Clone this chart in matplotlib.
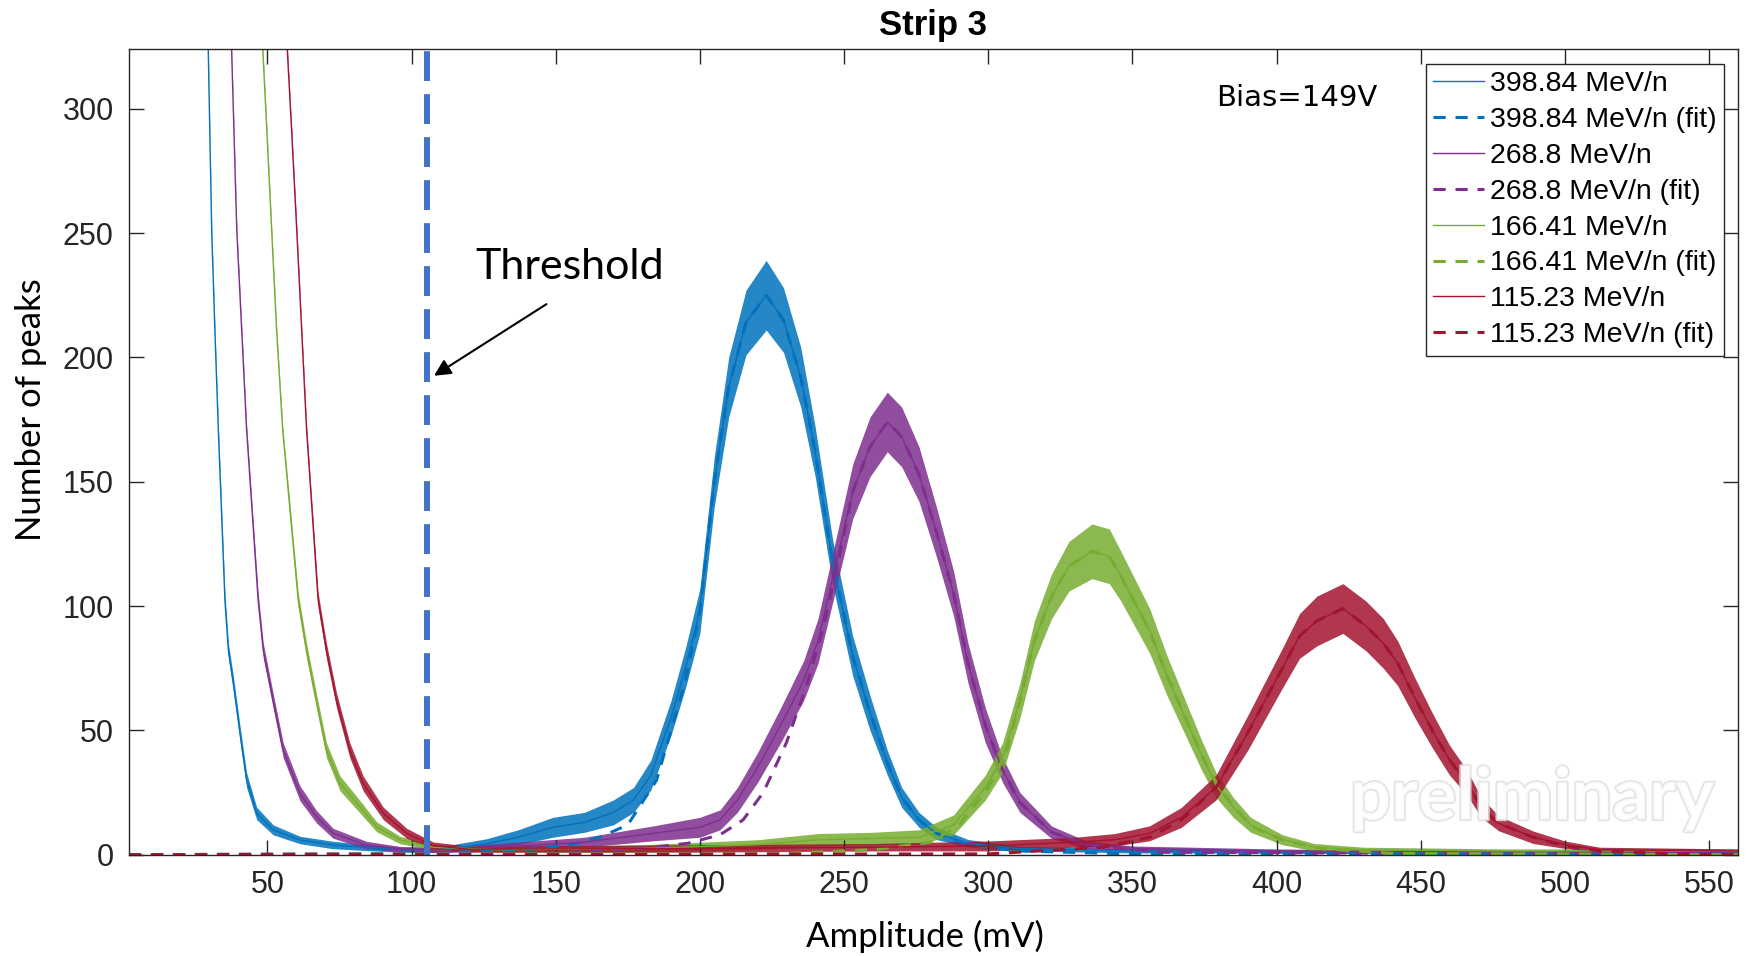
import numpy as np
import matplotlib.pyplot as plt
import matplotlib.patheffects as pe

x_398 = [29.5, 30.7, 31.8, 33, 35.3, 36.5, 38.2, 40.5, 42.8, 46.3, 52, 61.3, 72.7, 85, 96, 110, 126, 137, 149, 160,
         170, 177, 183, 190, 195, 200, 205, 210, 216, 223, 229, 235, 240, 246, 253, 259, 265, 270, 276, 282, 293,
         310, 350, 400, 450, 500, 560]
y_398 = [324, 251, 211, 171, 102, 82, 69, 49, 30, 16.6, 10, 5.9, 3.9, 2.8, 2, 2, 4.4, 7, 11, 13,
         17, 22, 32, 55, 75, 98, 150, 188, 214, 225, 215, 192, 162, 118, 80, 57, 37, 23, 14, 8.6, 4.6,
         2.5, 1.5, 1.2, 1, 1, 1]
n_398 = [2, 2, 2, 2, 3, 3, 3, 3, 3, 2.5, 2, 1.5, 1.5, 1.2, 1, 1.2, 2, 3, 4, 4,
         5, 5, 6, 7, 8, 9, 10, 12, 13, 14, 13, 12, 10, 9, 8, 7, 5, 4, 3, 2.5, 1.5,
         1, 0.8, 0.6, 0.6, 0.6, 0.6]

x_268 = [37.6, 39.4, 41.1, 42.8, 46.8, 48.6, 52, 55.5, 61.3, 67, 72.8, 84.3, 96, 110, 130, 160, 184, 200, 207, 213,
         220, 228, 236, 241, 247, 253, 259, 265, 270, 276, 282, 288, 293, 299, 305, 311, 322, 334, 350, 400, 450,
         500, 560]
y_268 = [324, 251, 211, 171, 102.5, 82, 62, 42, 24.7, 15.3, 8.6, 3.9, 2.3, 1.8, 3, 5, 8.6, 11, 14, 22,
         35, 52, 70, 86, 116, 146, 164, 174, 168, 153, 130, 105, 77, 52, 34, 21, 9, 4, 2.5, 1.5, 1.2,
         1, 1]
n_268 = [2, 2, 2, 2, 3, 3, 3, 3, 3, 2.5, 2, 1.5, 1, 1, 1.5, 2, 3, 4, 4, 5,
         6, 7, 8, 9, 10, 11, 12, 12, 12, 11, 10, 9, 8, 7, 5, 4, 2.5, 1.5, 1, 0.8, 0.6,
         0.6, 0.6]

x_166 = [48.4, 49.8, 51.5, 53.2, 55.3, 60.7, 63.6, 67, 70.5, 75.2, 82.1, 87.9, 96, 107.5, 130, 180, 220, 241, 260, 276,
         288, 299, 305, 311, 316, 322, 328, 336, 342, 346, 356, 362, 368, 374, 379, 385, 391, 402, 413, 430, 480,
         560]
y_166 = [324, 291.6, 251, 211, 171, 102.5, 82, 62, 42, 28.7, 19.3, 11.2, 5.9, 3, 2, 2.5, 4, 6, 6.5, 7,
         12, 27, 39, 62, 86, 104, 116, 122, 120, 112, 90, 72, 56, 40, 28, 19, 12, 6, 3, 2, 1.5,
         1.5]
n_166 = [2, 2, 2, 2, 2, 3, 3, 3, 3, 3, 2.5, 2, 1.5, 1, 1, 1.5, 2, 2.5, 2.5, 3,
         4, 5, 6, 7, 8, 9, 10, 11, 11, 10, 9, 8, 7, 6, 5, 4, 3, 2, 1.5, 1, 0.8,
         0.8]

x_115 = [56.9, 58.4, 60.2, 61.9, 63.6, 67.6, 70.5, 74, 78.6, 83.2, 90.2, 98.3, 107.5, 120, 200, 260, 300, 330, 344, 356,
         367, 379, 390, 402, 408, 414, 423, 431, 437, 442, 448, 454, 460, 466, 471, 477, 489, 500, 512, 560]
y_115 = [324, 291.6, 251, 211, 171, 102.5, 82, 62, 42, 28.7, 16.6, 8.6, 3.6, 2.2, 2.5, 3, 3.5, 5, 6, 8.6,
         15, 27, 49, 75, 88, 94, 99, 92, 85, 77, 63, 50, 38, 29, 19, 12.6, 7, 4, 2, 1.5]
n_115 = [2, 2, 2, 2, 2, 3, 3, 3, 3, 3, 2.5, 2, 1.5, 1.2, 1.5, 1.5, 2, 2, 2.5, 3,
         4, 5, 7, 8, 9, 10, 10, 10, 10, 9, 8, 7, 6, 5, 4, 3, 2.5, 1.5, 1, 0.8]

# fits
fx_398 = [2, 100, 140, 155, 165, 175, 185, 195, 200, 205, 210, 216, 223, 229, 235, 240, 246, 253, 259, 265, 270,
          276, 282, 293, 310, 350, 560]
fy_398 = [0, 0.3, 2, 4, 6.8, 12, 30, 70, 98, 150, 188, 214, 225, 215, 192, 162, 118, 80, 57, 37, 23,
          14, 8.6, 4, 1.5, 0.3, 0]
fx_268 = [2, 150, 180, 196, 207, 215, 222, 230, 237, 243, 248, 253, 259, 265, 270, 276, 282, 288, 293, 299, 305,
          311, 322, 334, 360, 560]
fy_268 = [0, 0.5, 2.5, 4.6, 8, 14, 25, 45, 68, 92, 118, 146, 164, 174, 168, 153, 130, 105, 77, 52, 34,
          21, 9, 4, 1, 0]
fx_166 = [2, 230, 260, 280, 290, 300, 306, 311, 316, 322, 328, 336, 342, 346, 356, 362, 368, 374, 380, 386, 392,
          403, 415, 440, 560]
fy_166 = [0, 0.5, 2, 5, 12, 27, 40, 62, 86, 104, 116, 122, 120, 112, 90, 72, 56, 40, 27, 18, 11,
          5.5, 2.5, 0.5, 0]
fx_115 = [2, 300, 340, 356, 367, 379, 390, 402, 408, 414, 423, 431, 437, 442, 448, 454, 460, 466, 471, 477, 489,
          500, 512, 540, 560]
fy_115 = [0, 0.3, 3, 7, 14, 27, 49, 75, 88, 94, 99, 92, 85, 77, 63, 50, 38, 29, 19, 12.6, 7,
          3.5, 1.5, 0.3, 0]

labels = ['398.84 MeV/n', '268.8 MeV/n', '166.41 MeV/n', '115.23 MeV/n']
threshold = 105.5

series = [(x_398, y_398, n_398, fx_398, fy_398, '#0072BD'),
          (x_268, y_268, n_268, fx_268, fy_268, '#7E2F8E'),
          (x_166, y_166, n_166, fx_166, fy_166, '#77AC30'),
          (x_115, y_115, n_115, fx_115, fy_115, '#A2142F')]

plt.rcParams['font.family'] = 'Liberation Sans'
fig = plt.figure(figsize=(17.47, 9.56), dpi=100)
ax = fig.add_axes([0.0738, 0.106, 0.921, 0.8427])

for (x, y, n, fx, fy, c), lab in zip(series, labels):
    x = np.array(x); y = np.array(y); n = np.array(n)
    ax.fill_between(x, y - n, y + n, color=c, alpha=0.85, lw=0)
    ax.plot(x, y, '-', color=c, lw=1, label=lab)
    ax.plot(fx, fy, '--', color=c, lw=2.2, dashes=(4, 3.2), label=lab + ' (fit)')

ax.axvline(threshold, color='#4472C4', lw=4.3, dashes=(5, 2.2))

ax.set_xlim(2, 560)
ax.set_ylim(0, 324)
ax.set_xticks(np.arange(50, 551, 50))
ax.set_yticks(np.arange(0, 301, 50))
ax.tick_params(direction='in', length=11, width=1, top=True, right=True,
               labelsize=22, colors='#262626', pad=11)
for s in ax.spines.values():
    s.set_color('#262626')
    s.set_linewidth(1)

ax.set_title('Strip 3', fontsize=25, fontweight='bold', pad=10)
ax.set_xlabel('Amplitude (mV)', fontsize=25, family=['Lato', 'DejaVu Sans'])
ax.xaxis.set_label_coords(0.4947, -0.101)
ax.xaxis.label.set_va('center')
ax.set_ylabel('Number of peaks', fontsize=25, family=['Liberation Sans Narrow', 'Lato'])
ax.yaxis.set_label_coords(-0.061, 0.553)
ax.yaxis.label.set_va('center')

ax.text(122.3, 236.5, 'Threshold', fontsize=31, family=['Lato', 'DejaVu Sans'], ha='left', va='center')
ax.annotate('', xy=(107, 192), xytext=(147.6, 222),
            arrowprops=dict(arrowstyle='-|>', color='black', lw=1.5, mutation_scale=25))
ax.text(379, 304.5, 'Bias=149V', fontsize=21, family=['DejaVu Sans'], ha='left', va='center')
ax.text(488.5, 22.4, 'preliminary', fontsize=52, fontweight='bold', family=['Lato', 'DejaVu Sans'],
        color='white', alpha=0.85, ha='center', va='center', zorder=5,
        path_effects=[pe.withStroke(linewidth=2.5, foreground='#e0e0e0')])

ax.legend(loc='upper right', bbox_to_anchor=(0.9913, 0.982), borderaxespad=0, fontsize=20.5,
          handlelength=1.8, handletextpad=0.2, labelspacing=0.35, borderpad=0.25,
          frameon=True, fancybox=False, edgecolor='#262626', framealpha=1)

fig.savefig('out.png', dpi=100)
